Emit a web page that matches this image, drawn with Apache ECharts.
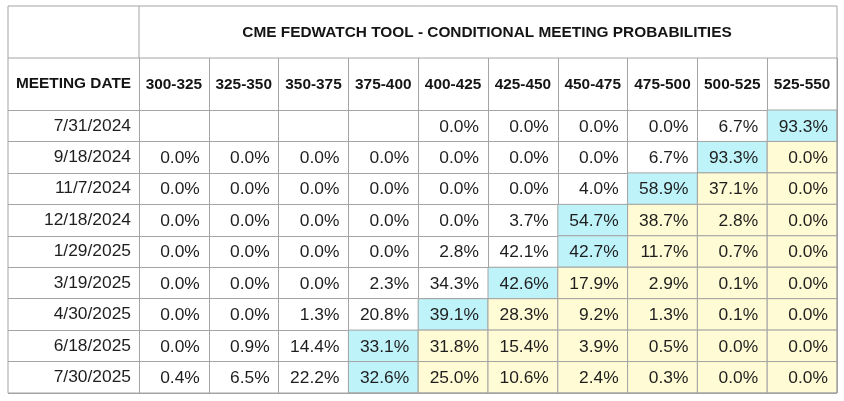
<!DOCTYPE html>
<html>
<head>
<meta charset="utf-8">
<script src="https://cdn.jsdelivr.net/npm/echarts@6/dist/echarts.min.js"></script>
<style>
html,body{margin:0;padding:0;background:#fff;}
#chart{width:844px;height:401px;}
</style>
</head>
<body>
<div id="chart"></div>
<script>
// ---- data ----
var titleText = 'CME FEDWATCH TOOL - CONDITIONAL MEETING PROBABILITIES';
var firstHeader = 'MEETING DATE';
var buckets = ['300-325','325-350','350-375','375-400','400-425','425-450','450-475','475-500','500-525','525-550'];
var dates = ['7/31/2024','9/18/2024','11/7/2024','12/18/2024','1/29/2025','3/19/2025','4/30/2025','6/18/2025','7/30/2025'];
var row_2024_07_31 = [null, null, null, null, 0.0, 0.0, 0.0, 0.0, 6.7, 93.3];
var row_2024_09_18 = [0.0, 0.0, 0.0, 0.0, 0.0, 0.0, 0.0, 6.7, 93.3, 0.0];
var row_2024_11_07 = [0.0, 0.0, 0.0, 0.0, 0.0, 0.0, 4.0, 58.9, 37.1, 0.0];
var row_2024_12_18 = [0.0, 0.0, 0.0, 0.0, 0.0, 3.7, 54.7, 38.7, 2.8, 0.0];
var row_2025_01_29 = [0.0, 0.0, 0.0, 0.0, 2.8, 42.1, 42.7, 11.7, 0.7, 0.0];
var row_2025_03_19 = [0.0, 0.0, 0.0, 2.3, 34.3, 42.6, 17.9, 2.9, 0.1, 0.0];
var row_2025_04_30 = [0.0, 0.0, 1.3, 20.8, 39.1, 28.3, 9.2, 1.3, 0.1, 0.0];
var row_2025_06_18 = [0.0, 0.9, 14.4, 33.1, 31.8, 15.4, 3.9, 0.5, 0.0, 0.0];
var row_2025_07_30 = [0.4, 6.5, 22.2, 32.6, 25.0, 10.6, 2.4, 0.3, 0.0, 0.0];
var rows = [row_2024_07_31, row_2024_09_18, row_2024_11_07, row_2024_12_18, row_2025_01_29,
            row_2025_03_19, row_2025_04_30, row_2025_06_18, row_2025_07_30];

// ---- build cells: class 0 = plain, 1 = most likely (cyan), 2 = above most likely (yellow) ----
var cells = [];
rows.forEach(function (r, ri) {
  var maxI = 0;
  r.forEach(function (v, ci) { if (v != null && v > (r[maxI] == null ? -1 : r[maxI])) maxI = ci; });
  r.forEach(function (v, ci) {
    if (v == null) return;
    var cls = ci === maxI ? 1 : (ci > maxI ? 2 : 0);
    cells.push([ci, ri, v, cls]);
  });
});

var LINE = '#a4a4a4';
var FILLS = ['#ffffff', '#bff3fa', '#fffbd4'];
var FONT = '"Liberation Sans", Arial, sans-serif';

var chart = echarts.init(document.getElementById('chart'), null, {renderer: 'canvas'});
chart.setOption({
  animation: false,
  backgroundColor: '#ffffff',
  grid: {left: 139, right: 7, top: 110, bottom: 8, containLabel: false},
  xAxis: {
    type: 'category',
    data: buckets,
    position: 'top',
    boundaryGap: true,
    axisLine: {show: true, lineStyle: {color: LINE, width: 1}},
    axisTick: {show: true, length: 52, interval: 0, lineStyle: {color: LINE, width: 1}},
    axisLabel: {interval: 0, margin: 18, fontFamily: FONT, fontSize: 15.4, fontWeight: 'bold', color: '#141414'},
    splitLine: {show: true, interval: 0, lineStyle: {color: LINE, width: 1}}
  },
  yAxis: {
    type: 'category',
    data: dates,
    inverse: true,
    boundaryGap: true,
    axisLine: {show: true, lineStyle: {color: LINE, width: 1}},
    axisTick: {show: true, length: 131, interval: 0, lineStyle: {color: LINE, width: 1}},
    axisLabel: {interval: 0, margin: 8, fontFamily: FONT, fontSize: 17.4, color: '#1e1e1e'},
    splitLine: {show: true, interval: 0, lineStyle: {color: LINE, width: 1}}
  },
  series: [{
    type: 'custom',
    data: cells,
    encode: {x: 0, y: 1},
    renderItem: function (params, api) {
      var c = api.coord([api.value(0), api.value(1)]);
      var s = api.size([1, 1]);
      var cls = api.value(3);
      var children = [];
      if (cls > 0) {
        children.push({
          type: 'rect',
          shape: {x: c[0] - s[0] / 2, y: c[1] - s[1] / 2, width: s[0], height: s[1]},
          style: {fill: FILLS[cls], stroke: LINE, lineWidth: 1}
        });
      }
      children.push({
        type: 'text',
        style: {
          x: c[0] + s[0] / 2 - 9, y: c[1] + 1,
          text: api.value(2).toFixed(1) + '%',
          align: 'right', verticalAlign: 'middle',
          font: '17.4px ' + FONT, fill: '#1e1e1e'
        }
      });
      return {type: 'group', children: children};
    }
  }],
  graphic: [
    {type: 'rect', shape: {x: 8, y: 6, width: 829, height: 387}, style: {fill: null, stroke: LINE, lineWidth: 1}, z: 100},
    {type: 'line', shape: {x1: 8, y1: 58, x2: 837, y2: 58}, style: {stroke: LINE, lineWidth: 1}, z: 100},
    {type: 'line', shape: {x1: 139, y1: 6, x2: 139, y2: 58}, style: {stroke: LINE, lineWidth: 1}, z: 100},
    {type: 'text', x: 487, y: 32.5, style: {text: titleText, align: 'center', verticalAlign: 'middle', font: 'bold 15.4px ' + FONT, fill: '#141414'}, z: 100},
    {type: 'text', x: 73.5, y: 84, style: {text: firstHeader, align: 'center', verticalAlign: 'middle', font: 'bold 15.4px ' + FONT, fill: '#141414'}, z: 100}
  ]
});
</script>
</body>
</html>
